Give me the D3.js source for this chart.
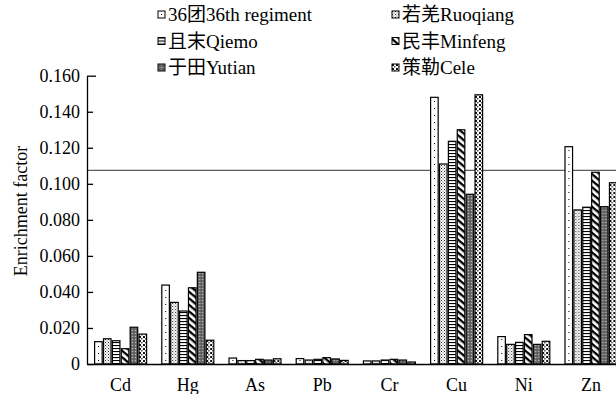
<!DOCTYPE html>
<html><head><meta charset="utf-8">
<script src="https://cdn.jsdelivr.net/npm/d3@7"></script>
<style>
body{margin:0;background:#fff;}
svg{display:block;}
svg text{font-family:"Liberation Serif","Times New Roman",Times,"DejaVu Serif",serif,"Noto Sans CJK SC" !important;fill:#000;}
</style></head><body>
<svg id="chart" width="616" height="394"></svg>
<script>
const categories = ["Cd","Hg","As","Pb","Cr","Cu","Ni","Zn"];
const seriesNames = ["36团36th regiment","若羌Ruoqiang","且末Qiemo","民丰Minfeng","于田Yutian","策勒Cele"];
const s36th     = [0.0124,0.0438,0.0033,0.0030,0.0017,0.1480,0.0152,0.1206];
const sRuoqiang = [0.0140,0.0342,0.0019,0.0022,0.0017,0.1110,0.0109,0.0855];
const sQiemo    = [0.0129,0.0294,0.0019,0.0026,0.0022,0.1236,0.0120,0.0870];
const sMinfeng  = [0.0085,0.0423,0.0026,0.0035,0.0026,0.1300,0.0163,0.1064];
const sYutian   = [0.0204,0.0509,0.0022,0.0028,0.0022,0.0942,0.0109,0.0873];
const sCele     = [0.0166,0.0132,0.0029,0.0020,0.0011,0.1494,0.0126,0.1006];
const yTicks = [0,0.02,0.04,0.06,0.08,0.10,0.12,0.14,0.16];
const yTickLabels = ["0","0.020","0.040","0.060","0.080","0.100","0.120","0.140","0.160"];
const refValue = 0.1075;
const yTitle = "Enrichment factor";

const seriesValues = [s36th,sRuoqiang,sQiemo,sMinfeng,sYutian,sCele];
const patIds = ["p36","pRuo","pQie","pMin","pYut","pCel"];

const svg = d3.select("#chart");
const defs = svg.append("defs");
let p = defs.append("pattern").attr("id","p36").attr("patternUnits","userSpaceOnUse").attr("width",8).attr("height",7);
p.append("rect").attr("width",8).attr("height",7).attr("fill","#fff");
p.append("rect").attr("x",3).attr("y",3).attr("width",1).attr("height",1).attr("fill","#000");
p = defs.append("pattern").attr("id","pRuo").attr("patternUnits","userSpaceOnUse").attr("width",3).attr("height",3);
p.append("rect").attr("width",3).attr("height",3).attr("fill","#fff");
p.append("rect").attr("x",0).attr("y",0).attr("width",1).attr("height",1).attr("fill","#222");
p.append("rect").attr("x",1.5).attr("y",1.5).attr("width",1).attr("height",1).attr("fill","#555");
p = defs.append("pattern").attr("id","pQie").attr("patternUnits","userSpaceOnUse").attr("width",4).attr("height",3);
p.append("rect").attr("width",4).attr("height",3).attr("fill","#fff");
p.append("rect").attr("x",0).attr("y",0).attr("width",4).attr("height",1.1).attr("fill","#000");
p = defs.append("pattern").attr("id","pMin").attr("patternUnits","userSpaceOnUse").attr("width",5).attr("height",5).attr("patternTransform","rotate(40)");
p.append("rect").attr("width",5).attr("height",5).attr("fill","#fff");
p.append("rect").attr("x",0).attr("y",0).attr("width",5).attr("height",2.3).attr("fill","#000");
p = defs.append("pattern").attr("id","pYut").attr("patternUnits","userSpaceOnUse").attr("width",3).attr("height",3);
p.append("rect").attr("width",3).attr("height",3).attr("fill","#6e6e6e");
p.append("rect").attr("x",0).attr("y",0).attr("width",1).attr("height",1).attr("fill","#bbb");
p.append("rect").attr("x",1.5).attr("y",1.5).attr("width",1).attr("height",1).attr("fill","#333");
p = defs.append("pattern").attr("id","pCel").attr("patternUnits","userSpaceOnUse").attr("width",4).attr("height",4);
p.append("rect").attr("width",4).attr("height",4).attr("fill","#fff");
p.append("rect").attr("x",0).attr("y",0).attr("width",2).attr("height",2).attr("fill","#111");
p.append("rect").attr("x",2).attr("y",2).attr("width",1.5).attr("height",1.5).attr("fill","#444");

const x0 = 87, xEnd = 624.6, yBase = 364, yTop = 75.7;
const x = d3.scaleBand().domain(categories).range([x0, xEnd]).padding(0);
const groupW = 52;
const x1 = d3.scaleBand().domain(d3.range(seriesNames.length))
  .range([(x.bandwidth()-groupW)/2, (x.bandwidth()+groupW)/2]).paddingInner(0.15).paddingOuter(0);
const y = d3.scaleLinear().domain([0,0.16]).range([yBase, yTop]);

svg.append("line").attr("x1",x0).attr("x2",616).attr("y1",y(refValue)).attr("y2",y(refValue))
  .attr("stroke","#333").attr("stroke-width",1);

const groups = svg.append("g").selectAll("g").data(categories).join("g")
  .attr("transform",c=>`translate(${x(c)},0)`);
groups.selectAll("rect").data((c,ci)=>seriesValues.map((s,si)=>({si, v:s[ci]}))).join("rect")
  .attr("x",d=>x1(d.si)).attr("width",x1.bandwidth())
  .attr("y",d=>y(d.v)).attr("height",d=>y(0)-y(d.v))
  .attr("fill",d=>`url(#${patIds[d.si]})`).attr("stroke","#000").attr("stroke-width",1.2);

const yAxis = d3.axisLeft(y).tickValues(yTicks).tickFormat((d,i)=>yTickLabels[i])
  .tickSizeInner(-6).tickSizeOuter(0).tickPadding(7);
const ga = svg.append("g").attr("transform",`translate(${x0},0)`).call(yAxis);
ga.select(".domain").attr("stroke","#000").attr("stroke-width",1.3);
ga.selectAll(".tick line").attr("stroke","#000").attr("stroke-width",1.3)
  .attr("x2",d=>d===yTicks[yTicks.length-1]?9:6);
ga.selectAll("text").attr("font-size",18);

const xAxis = d3.axisBottom(x).tickSize(0).tickPadding(14);
const gx = svg.append("g").attr("transform",`translate(0,${yBase})`).call(xAxis);
gx.select(".domain").attr("stroke","#000").attr("stroke-width",1.5);
gx.selectAll("text").attr("font-size",18);

svg.append("text").attr("transform",`translate(27,211) rotate(-90)`).attr("text-anchor","middle")
  .attr("font-size",18).text(yTitle);

const legendPos = [[158,0],[392,0],[158,1],[392,1],[158,2],[392,2]];
const legendOrder = [0,1,2,3,4,5];
const lg = svg.append("g").selectAll("g").data(legendOrder).join("g")
  .attr("transform",(d,i)=>`translate(${legendPos[i][0]},${11+legendPos[i][1]*26.5})`);
lg.append("rect").attr("width",7).attr("height",7).attr("fill",d=>`url(#${patIds[d]})`)
  .attr("stroke","#000").attr("stroke-width",1);
lg.append("text").attr("x",10).attr("y",10).attr("font-size",19).text(d=>seriesNames[d]);
</script></body></html>
